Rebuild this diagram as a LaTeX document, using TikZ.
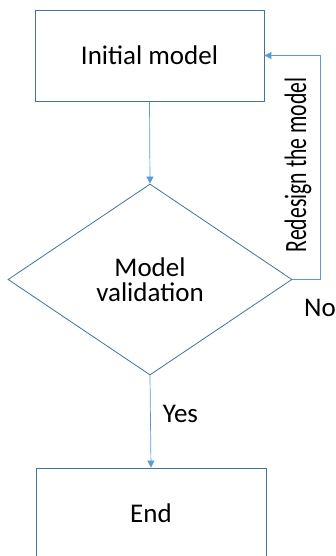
\documentclass[tikz,border=0pt]{standalone}
\usepackage{fontspec}
\setmainfont{Carlito}
\newfontfamily\narrowfont[FakeStretch=0.7]{Carlito}
\usetikzlibrary{shapes.geometric,arrows.meta}
\definecolor{boxblue}{HTML}{41719C}
\definecolor{linkblue}{HTML}{5B9BD5}
\begin{document}
\begin{tikzpicture}[x=1pt,y=-1pt]
\tikzstyle{every node}=[font=\fontsize{27}{25}\selectfont,inner sep=0pt];
\tikzstyle{stepbox}=[draw=boxblue,line width=0.8pt,minimum width=229pt,minimum height=91pt];
\tikzstyle{check}=[draw=boxblue,line width=0.8pt,shape=diamond,minimum width=284pt,minimum height=191pt,align=center];
\tikzstyle{link}=[draw=linkblue,line width=0.7pt,-{Triangle[length=7pt,width=7pt]}];
\useasboundingbox (0,0) rectangle (336,556);
\node[stepbox] (init) at (149.5,55.5) {Initial model};
\node[check] (valid) at (150,279.5) {Model\\validation};
\node[stepbox,minimum width=230pt] (end) at (151,513.5) {End};
\coordinate (turn) at (320,279.5);
\draw[link] (init.south) -- (valid.north);
\draw[link] (valid.south) -- node[right=12pt,pos=0.42] (yes) {Yes} (end.north);
\draw[link] (valid.east) -- (turn) |- (init.east);
\node[rotate=90,font=\fontsize{31}{31}\narrowfont] (redo) at (298,165) {Redesign the model};
\node[anchor=west] (no) at (304,308) {No};
\end{tikzpicture}
\end{document}
